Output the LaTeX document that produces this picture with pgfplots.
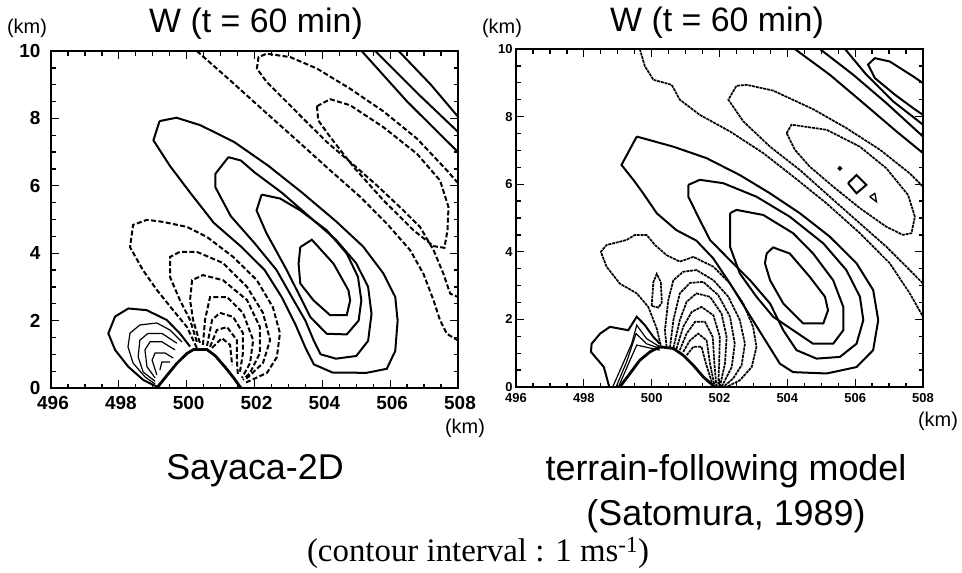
\documentclass[border=0pt]{standalone}
\usepackage{fontspec}
\setmainfont{Liberation Sans}
\newfontfamily\seriffont{Liberation Serif}
\usepackage{pgfplots}
\pgfplotsset{compat=1.18}

\pgfplotsset{
  wpanel/.style={
    scale only axis, width=407bp,
    xmin=496, xmax=508, ymin=0, ymax=10,
    xtick={496,498,...,508}, ytick={0,2,...,10},
    minor x tick num=3, minor y tick num=3,
    tick align=inside,
    major tick length=8bp, minor tick length=4.5bp,
    axis line style={line width=1.8bp},
    every tick/.style={line width=1.3bp, black},
    /pgf/number format/assume math mode=true,
    /pgf/number format/1000 sep={},
  },
  pos/.style={black, line width=2bp},
  thin pos/.style={black, line width=1.2bp},
  neg/.style={black, line width=2bp, dash pattern=on 5bp off 2.4bp},
  rneg/.style={black, line width=1.7bp, dash pattern=on 3bp off 0.8bp},
  terrain/.style={black, line width=2.8bp},
}

\begin{document}
\begin{tikzpicture}
\useasboundingbox (0,0) rectangle (962bp,-573bp);

% ---------------- left: Sayaca-2D
\begin{axis}[wpanel, height=337bp, at={(51bp,-388bp)}, anchor=south west,
  tick label style={font=\fontsize{19}{19}\selectfont\bfseries},
  xticklabel style={yshift=-5bp, xshift=2bp}, yticklabel style={xshift=-7bp}]
% positive lobe
\addplot[pos] coordinates {(499.2,7.92) (499.7,8.02) (500.4,7.8) (501.4,7.3) (502.4,6.6) (503.4,5.8) (504.4,4.95) (505.2,4.2) (505.8,3.4) (506.15,2.7) (506.22,2.0) (506.15,1.1) (505.9,0.57) (505.3,0.45) (504.3,0.46) (503.75,0.7) (503.5,1.2) (503.2,1.9) (502.8,2.7) (502.3,3.5) (501.6,4.2) (500.8,4.9) (500.1,5.8) (499.5,6.6) (499.02,7.35) (499.2,7.92)};
\addplot[pos] coordinates {(501.23,6.85) (500.85,6.36) (500.85,5.95) (501.3,5.1) (502.0,4.3) (502.65,3.5) (503.1,2.7) (503.5,2.0) (503.75,1.4) (503.95,1.0) (504.4,0.87) (505.0,0.95) (505.35,1.4) (505.45,2.2) (505.35,3.0) (505.0,3.7) (504.4,4.4) (503.6,5.1) (502.8,5.8) (502.0,6.4) (501.6,6.75) (501.23,6.85)};
\addplot[pos] coordinates {(502.21,5.74) (502.06,5.27) (502.35,4.6) (502.95,3.5) (503.3,2.8) (503.65,2.1) (504.13,1.61) (504.72,1.59) (505.07,2.0) (505.15,2.6) (505.05,3.3) (504.72,3.99) (504.13,4.68) (503.35,5.27) (502.76,5.62) (502.21,5.74)};
\addplot[pos] coordinates {(503.35,4.18) (503.69,4.40) (504.33,3.69) (504.77,2.90) (504.82,2.60) (504.72,2.16) (504.23,2.16) (503.74,2.60) (503.35,3.10) (503.30,3.69) (503.35,4.18)};
% upper right positive band
\addplot[pos] coordinates {(505.16,10) (506.5,8.5) (508,7.0)};
\addplot[pos] coordinates {(505.56,10) (506.8,8.75) (508,7.6)};
\addplot[pos] coordinates {(506.25,10) (507.2,9.0) (508,8.05)};
% negative band
\addplot[neg] coordinates {(500.30,10) (501.28,9.13) (502.26,8.24) (503.25,7.35) (504.23,6.46) (505.12,5.67) (505.90,4.88) (506.59,4.09) (506.98,3.39) (507.28,2.60) (507.47,2.01) (507.67,1.61) (508,1.41)};
\addplot[neg] coordinates {(508,6.08) (507.67,6.46) (506.79,7.40) (505.80,8.21) (504.82,8.88) (503.84,9.48) (503.05,9.82) (502.36,9.92) (502.12,9.82) (502.07,9.48) (502.36,9.08) (502.85,8.59) (503.44,7.99) (504.13,7.30) (504.82,6.71) (505.61,6.01) (506.39,5.27) (506.88,4.78) (507.28,4.09) (507.57,3.39) (507.77,2.80) (508,2.70)};
\addplot[neg] coordinates {(503.84,8.36) (504.23,8.57) (504.82,8.39) (505.80,7.74) (506.79,6.95) (507.47,6.16) (507.72,5.37) (507.69,4.68) (507.60,4.16) (507.28,4.21) (506.69,4.68) (505.80,5.57) (504.92,6.56) (504.23,7.45) (503.88,7.94) (503.84,8.36)};
% lee-side negative lobe
\addplot[neg] coordinates {(500.30,1.19) (500.01,1.81) (499.60,2.31) (499.12,2.91) (498.71,3.50) (498.33,4.18) (498.42,4.84) (498.83,4.99) (499.30,4.93) (500.01,4.78) (500.60,4.48) (501.37,3.89) (502.07,3.20) (502.54,2.40) (502.75,1.63) (502.66,0.92) (502.37,0.45) (501.72,0.15)};
\addplot[neg] coordinates {(500.30,1.37) (500.10,2.02) (499.80,2.61) (499.51,3.29) (499.51,3.89) (499.80,4.04) (500.30,4.04) (501.07,3.71) (501.78,3.00) (502.25,2.23) (502.46,1.42) (502.25,0.74) (501.72,0.24)};
\addplot[neg] coordinates {(500.39,1.34) (500.19,2.02) (500.10,2.61) (500.16,3.20) (500.48,3.35) (501.07,3.20) (501.78,2.61) (502.16,1.81) (502.16,1.04) (501.87,0.45) (501.66,0.24)};
\addplot[neg] coordinates {(500.48,1.28) (500.54,2.02) (500.69,2.70) (501.19,2.70) (501.66,2.23) (501.96,1.42) (501.87,0.74) (501.63,0.30)};
\addplot[neg] coordinates {(500.60,1.25) (500.75,2.02) (500.98,2.23) (501.37,2.11) (501.66,1.63) (501.66,1.04) (501.57,0.47)};
\addplot[neg] coordinates {(500.69,1.22) (500.89,1.72) (501.19,1.81) (501.48,1.42) (501.48,0.83) (501.51,0.39)};
\addplot[neg] coordinates {(500.75,1.19) (501.04,1.48) (501.28,1.28) (501.34,0.68)};
% windward positive lobe
\addplot[pos] coordinates {(499.12,0.04) (498.72,0.24) (498.28,0.63) (497.89,1.13) (497.69,1.62) (497.89,2.12) (498.28,2.36) (498.82,2.31) (499.41,2.02) (499.80,1.62) (500.10,1.23)};
\addplot[thin pos] coordinates {(499.07,0.12) (498.77,0.33) (498.42,0.74) (498.27,1.22) (498.33,1.63) (498.62,1.87) (499.12,1.93) (499.51,1.72) (499.86,1.37)};
\addplot[thin pos] coordinates {(499.07,0.2) (498.72,0.47) (498.57,0.92) (498.62,1.42) (498.86,1.62) (499.27,1.62) (499.71,1.33)};
\addplot[thin pos] coordinates {(499.07,0.3) (498.83,0.63) (498.77,1.13) (498.92,1.37) (499.27,1.37) (499.66,1.13)};
\addplot[thin pos] coordinates {(499.12,0.39) (498.98,0.83) (499.07,1.04) (499.36,1.04) (499.6,0.89)};
\addplot[thin pos] coordinates {(499.21,0.53) (499.27,0.77) (499.51,0.77)};
% bunched contours along the mountain
\addplot[terrain] coordinates {(499.12,0) (499.4,0.35) (499.7,0.72) (500.0,1.02) (500.2,1.14) (500.6,1.14) (500.85,0.95) (501.15,0.6) (501.4,0.28) (501.6,0)};
\end{axis}

% ---------------- right: terrain-following model
\begin{axis}[wpanel, height=338bp, at={(516bp,-387bp)}, anchor=south west,
  tick label style={font=\fontsize{13}{13}\selectfont\bfseries},
  xticklabel style={yshift=-3bp}]
% positive lobe
\addplot[pos] coordinates {(499.56,7.41) (500.64,7.11) (501.62,6.77) (502.60,6.27) (503.49,5.73) (504.37,5.14) (505.25,4.45) (506.04,3.66) (506.53,2.87) (506.68,1.98) (506.53,1.09) (506.04,0.59) (505.16,0.40) (504.17,0.44) (503.78,0.69) (503.29,1.48) (502.80,2.27) (502.31,3.06) (501.82,3.80) (501.32,4.33) (500.73,4.64) (500.15,5.14) (499.75,5.73) (499.46,6.13) (499.11,6.57) (499.56,7.41)};
\addplot[pos] coordinates {(501.08,5.98) (501.42,6.13) (502.11,6.03) (503.09,5.63) (504.07,5.04) (505.06,4.25) (505.74,3.46) (506.14,2.67) (506.24,1.98) (506.04,1.28) (505.55,0.89) (504.86,0.84) (504.27,1.09) (503.88,1.68) (503.49,2.47) (502.90,3.16) (502.31,3.75) (501.72,4.35) (501.42,4.94) (501.08,5.63) (501.08,5.98)};
\addplot[pos] coordinates {(502.31,5.14) (502.50,5.24) (503.29,5.09) (504.17,4.55) (504.76,3.95) (505.35,3.16) (505.65,2.37) (505.65,1.68) (505.35,1.28) (504.76,1.28) (504.17,1.68) (503.58,2.08) (503.09,2.67) (502.60,3.36) (502.31,4.15) (502.31,5.14)};
\addplot[pos] coordinates {(503.39,3.95) (503.58,4.13) (504.07,3.95) (504.66,3.26) (505.11,2.67) (505.20,2.27) (505.06,1.88) (504.47,1.88) (503.88,2.47) (503.49,3.16) (503.34,3.66) (503.39,3.95)};
% upper right positive band
\addplot[pos] coordinates {(504.22,10) (505.25,9.24) (506.24,8.40) (507.22,7.56) (508,6.92)};
\addplot[pos] coordinates {(504.96,10) (505.94,9.24) (506.92,8.40) (508,7.41)};
\addplot[pos] coordinates {(505.70,10) (506.33,9.24) (507.12,8.45) (508,7.76)};
\addplot[pos] coordinates {(508,8.05) (507.71,8.25) (507.17,8.65) (506.58,9.14) (506.38,9.54) (506.58,9.73) (507.02,9.63) (507.71,9.19) (508,8.99)};
% negative band
\addplot[rneg] coordinates {(499.65,10) (499.80,9.49) (500.05,9.09) (500.59,8.94) (500.83,8.50) (501.42,8.05) (502.31,7.56) (503.29,6.92) (504.17,6.23) (505.16,5.43) (506.14,4.55) (507.02,3.66) (507.61,2.77) (508,2.08)};
\addplot[rneg] coordinates {(508,5.93) (507.61,6.32) (506.73,7.02) (505.74,7.66) (504.76,8.22) (503.58,8.77) (502.80,8.94) (502.50,8.91) (502.26,8.50) (502.70,7.86) (503.49,7.11) (504.37,6.42) (505.25,5.63) (506.14,4.84) (506.92,4.15) (507.51,3.56) (508,3.06)};
\addplot[rneg] coordinates {(503.98,7.51) (504.12,7.76) (505.16,7.61) (506.14,7.11) (506.92,6.47) (507.56,5.68) (507.76,5.04) (507.66,4.55) (507.41,4.50) (506.92,4.74) (506.14,5.29) (505.35,5.93) (504.66,6.52) (504.22,7.02) (503.98,7.51)};
% small closed contours near the minimum
\addplot[pos, only marks, mark=*, mark size=1.2bp] coordinates {(505.55,6.47)};
\addplot[pos] coordinates {(505.79,6.03) (506.04,6.27) (506.33,5.98) (506.04,5.73) (505.79,6.03)};
\addplot[pos, line width=1.3bp] coordinates {(506.43,5.63) (506.58,5.73) (506.63,5.48) (506.43,5.63)};
% lee-side negative lobe
\addplot[rneg] coordinates {(500.29,1.14) (500.15,1.73) (499.90,2.37) (499.56,2.77) (499.06,3.06) (498.67,3.56) (498.50,4.00) (498.67,4.20) (499.26,4.35) (499.51,4.50) (499.85,4.50) (500.10,4.20) (500.44,3.90) (500.83,3.71) (501.23,3.85) (501.82,3.56) (502.31,3.06) (502.70,2.47) (502.99,1.78) (503.09,1.19) (502.95,0.59) (502.60,0.20) (502.21,0)};
\addplot[rneg] coordinates {(500.0,2.4) (500.05,3.1) (500.15,3.35) (500.27,3.1) (500.3,2.5) (500.2,2.35) (500.0,2.4)};
\addplot[rneg] coordinates {(500.44,1.19) (500.39,1.68) (500.49,2.57) (500.64,3.16) (500.93,3.41) (501.32,3.46) (501.82,3.16) (502.26,2.67) (502.60,1.98) (502.75,1.28) (502.65,0.64) (502.40,0.25) (502.11,0)};
\addplot[rneg] coordinates {(500.54,1.17) (500.64,1.98) (500.83,2.77) (501.13,3.08) (501.52,3.11) (501.96,2.72) (502.31,2.08) (502.45,1.28) (502.36,0.59) (502.06,0)};
\addplot[rneg] coordinates {(500.64,1.15) (500.83,1.98) (501.03,2.52) (501.32,2.77) (501.72,2.67) (502.06,2.17) (502.21,1.48) (502.16,0.69) (502.01,0)};
\addplot[rneg] coordinates {(500.73,1.13) (500.93,1.78) (501.18,2.22) (501.47,2.37) (501.82,2.12) (502.01,1.48) (501.99,0.69) (501.96,0)};
\addplot[rneg] coordinates {(500.83,1.09) (501.03,1.58) (501.28,1.93) (501.57,1.93) (501.80,1.48) (501.85,0.69) (501.91,0)};
\addplot[rneg] coordinates {(500.93,1.04) (501.13,1.38) (501.37,1.58) (501.62,1.38) (501.72,0.69) (501.86,0)};
\addplot[rneg] coordinates {(501.03,0.94) (501.23,1.19) (501.47,1.19) (501.60,0.69) (501.82,0)};
% windward positive lobe
\addplot[pos] coordinates {(498.75,0) (498.59,0.59) (498.21,1.04) (498.23,1.28) (498.48,1.58) (498.77,1.78) (499.31,1.68) (499.56,2.08) (499.80,1.83) (500.05,1.48) (500.24,1.28)};
\addplot[thin pos] coordinates {(498.85,0) (499.11,0.59) (499.41,1.28) (499.56,1.83) (499.85,1.43) (500.24,1.19)};
\addplot[thin pos] coordinates {(498.95,0) (499.26,0.74) (499.54,1.58) (499.85,1.28) (500.24,1.14)};
\addplot[thin pos] coordinates {(499.02,0) (499.36,0.79) (499.56,1.24) (500.24,1.09)};
% bunched contours along the mountain
\addplot[terrain] coordinates {(499.06,0) (499.36,0.40) (499.65,0.79) (499.95,1.04) (500.24,1.19) (500.64,1.14) (500.93,0.94) (501.23,0.64) (501.52,0.30) (501.86,0)};
\end{axis}

% ---------------- texts
\node at (256bp,-24bp) {\fontsize{34}{34}\selectfont W (t = 60 min)};
\node at (717bp,-23bp) {\fontsize{34}{34}\selectfont W (t = 60 min)};
\node at (27bp,-28bp) {\fontsize{20}{20}\selectfont (km)};
\node at (502bp,-28bp) {\fontsize{20}{20}\selectfont (km)};
\node at (465bp,-428bp) {\fontsize{20}{20}\selectfont (km)};
\node at (938bp,-421bp) {\fontsize{20}{20}\selectfont (km)};
\node at (255bp,-471bp) {\fontsize{36}{36}\selectfont Sayaca-2D};
\node at (726bp,-471bp) {\fontsize{36}{36}\selectfont terrain-following model};
\node at (726bp,-516bp) {\fontsize{36}{36}\selectfont (Satomura, 1989)};
\node at (478bp,-553bp) {\seriffont\fontsize{33}{33}\selectfont (contour interval : 1 ms\textsuperscript{-1})};
\end{tikzpicture}
\end{document}
